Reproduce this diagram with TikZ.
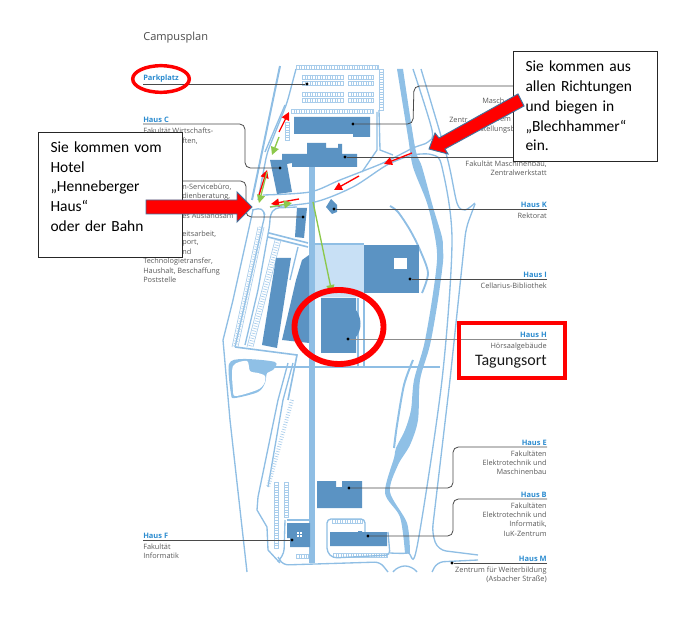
\documentclass[tikz,border=0pt]{standalone}
\usepackage{fontspec}
\setmainfont{Carlito}
\setsansfont{Open Sans}
\usetikzlibrary{arrows.meta, positioning, calc}
\definecolor{roadblue}{HTML}{8FBEE4}
\definecolor{riverblue}{HTML}{8FC0E6}
\definecolor{parkblue}{HTML}{A9CDEB}
\definecolor{patchblue}{HTML}{C8E0F5}
\definecolor{buildblue}{HTML}{5B93C3}
\definecolor{titleblue}{HTML}{2B8BCF}
\definecolor{mapgrey}{HTML}{5A5A5A}
\definecolor{leadgrey}{HTML}{4A4A4A}
\definecolor{arrowblue}{HTML}{41719C}
\definecolor{routegreen}{HTML}{8CC84B}
\newcommand{\parkh}[3]{%
  \draw[parkline] (#1,#3) rectangle (#2,#3+4);
  \draw[parktick] (#1,#3+2) -- (#2,#3+2);
}
\newcommand{\parkv}[3]{%
  \draw[parkline] (#1,#2) rectangle (#1+4,#3);
  \draw[parktick] (#1+2,#2) -- (#1+2,#3);
}
\begin{document}
\begin{tikzpicture}[x=0.75pt, y=-0.75pt,
                road/.style={draw=roadblue, line width=1pt},
                broad/.style={draw=roadblue, line width=5pt},
                parkline/.style={draw=parkblue, line width=0.5pt},
                parktick/.style={draw=parkblue, line width=3pt, dash pattern=on 0.5pt off 1.4pt},
                building/.style={fill=buildblue},
                title/.style={font=\sffamily\bfseries\fontsize{5.6}{6.8}\selectfont, text=titleblue, inner xsep=0pt, inner ysep=1pt},
                desc/.style={font=\sffamily\fontsize{5.5}{7}\selectfont, text=mapgrey, inner xsep=0pt, inner ysep=2.4pt},
                frag/.style={desc, anchor=west},
                dot/.style={circle, fill=black, inner sep=0pt, minimum size=2.6pt},
                leader/.style={draw=leadgrey, line width=0.6pt},
                redroute/.style={draw=red, line width=1pt, -{Triangle[length=6pt, width=6pt]}},
                greenroute/.style={draw=routegreen, line width=1pt, -{Triangle[length=6pt, width=6pt]}},
                bigarrow/.style={fill=red, draw=arrowblue, line width=0.7pt},
                callout/.style={draw=black!85, fill=white, line width=0.8pt, anchor=north west, align=left,
                    font=\fontsize{11.6}{14.8}\selectfont, text width=90pt, inner xsep=9pt}]
                \useasboundingbox (0,0) rectangle (700,620);

                \fill[riverblue] plot[smooth] coordinates {(397,69) (408,137) (413,167) (427,203) (435,237) (437,260) (432,300) (424,345) (414,380) (411,410) (405,430) (396,448) (394,458) (385,493) (400,517) (405,553)}
                    -- plot[smooth] coordinates {(410,553) (407,523) (390,492) (398,465) (410,445) (418,420) (420,380) (430,345) (438,300) (443,262) (443,250) (442,237) (433,207) (422,167) (415,147) (403,69)} -- cycle;
                \draw[riverblue, line width=1.5pt] plot[smooth] coordinates {(413,360) (404,385) (397,425) (394,448)};
                \draw[road, line width=1.4pt] plot[smooth] coordinates {(390,206) (398,212) (410,230) (420,250) (428,273) (422,293)};

                \draw[road, line width=1.5pt] (280,66) -- (252,200);
                \draw[road] (253,210) -- (233,300) -- (223,340) -- (230,420) -- (247,572);
                \draw[road, rounded corners=5] (296,69) -- (287,103) -- (267,153) -- (258,200);
                \draw[road] (285,105) -- (265,152);
                \draw[road, rounded corners=3] (252,210) -- (262,208) -- (265,215) -- (263,223) -- (248,290) -- (235,347);
                \draw[road, rounded corners=3] (297,207) -- (275,208) -- (270,215) -- (270,223) -- (258,290) -- (245,345);

                \draw[road] plot[smooth] coordinates {(263,195) (310,192) (340,180) (383,163) (413,148) (428,142) (432,130) (413,69)};
                \draw[road] plot[smooth] coordinates {(270,207) (315,202) (353,187) (387,165) (413,155) (433,155) (442,167) (452,240) (442,380) (417,547) (408,553) (390,553)};
                \draw[road] plot[smooth] coordinates {(421,69) (447,157) (457,203) (465,210) (475,203)};
                \draw[road, rounded corners=6] (475,204) -- (466,228) -- (450,380) -- (432,533) -- (438,550) -- (478,555);
                \draw[road, rounded corners=4] (278,557) -- (283,565) -- (380,562) -- (388,572);
                \draw[road, rounded corners=5] (393,572) -- (398,566) -- (412,566) -- (417,572);
                \draw[road, rounded corners=5] (432,572) -- (437,562) -- (478,560);

                \fill[patchblue] (315,245) rectangle (364,297);
                \draw[road, line width=1.2pt] (269,233) -- (308,243);
                \draw[road, line width=1.2pt] (268,237) -- (308,247);
                \draw[road] (298,247) -- (290,280);
                \draw[road, line width=1.4pt] (315,244) -- (364,244);
                \draw[road, line width=1.2pt] (235,347) -- (297,355) -- (288,400);
                \draw[road] (293,363) -- (283,400) -- (268,487);
                \draw[road] (288,363) -- (278,400) -- (258,497) -- (257,510) -- (267,527) -- (268,550) -- (280,563);
                \draw[road, line width=1.5pt] (275,367) -- (440,367);
                \draw[road] (358,298) -- (358,367);
                \draw[road] (364,298) -- (364,367);

                \fill[riverblue] plot[smooth cycle] coordinates {(229,364) (243,359) (275,362) (273,370) (267,373) (265,383) (258,392) (235,398) (231,394)};
                \fill[white] plot[smooth cycle] coordinates {(233,366) (247,361) (250,371) (258,373) (265,376) (264,384) (257,390) (236,396) (233,390)};

                \draw[broad] (312,165) -- (312,563);

                \parkh{296}{378}{65}
                \parkh{302}{343}{75}
                \parkh{302}{343}{81}
                \parkh{348}{373}{75}
                \parkh{348}{373}{81}
                \parkh{302}{343}{92}
                \parkh{302}{343}{98}
                \parkh{348}{373}{92}
                \parkh{348}{373}{98}
                \parkh{291}{373}{109}
                \parkv{379}{69}{110}
                \parkv{285}{122}{140}
                \draw[road] (377,112) -- (377,150) -- (362,172);
                \draw[road] (379,110) -- (380,150) -- (393,155);
                \parkv{274}{482}{548}
                \parkv{284}{482}{517}
                \parkh{332}{362}{519}
                \parkh{333}{387}{553}
                \parkh{296}{308}{554}
                \draw[road, rounded corners=3] (287,520) -- (310,520);
                \draw[road, rounded corners=3] (285,520) -- (284,553) -- (278,562);
                \draw[road, rounded corners=3] (365,532) -- (365,519) -- (327,519) -- (327,552) -- (333,558) -- (390,555) -- (388,532);

                \draw[parkline] (258,227) -- (232,347);
                \draw[parkline] (264,227) -- (238,347);
                \draw[parktick] (261,227) -- (235,347);
                \draw[parkline] (275,240) -- (247,347);
                \draw[parkline] (281,240) -- (253,347);
                \draw[parktick] (278,240) -- (250,347);
                \draw[parktick] (292,400) -- (268,487);

                \fill[building] (294,117) -- (370,117) -- (370,137) -- (353,137) -- (353,134) -- (294,134) -- cycle;
                \fill[building] (270,160) -- (282,160) -- (282,154) -- (307,154) -- (307,143) -- (326,143) -- (326,148) -- (338,148) -- (338,144) -- (342,144) -- (342,154) -- (357,154) -- (357,167) -- (292,167) -- (292,163) -- (287,164) -- (292,192) -- (277,194) -- cycle;
                \fill[building] (331,199) -- (337,205) -- (337,212) -- (332,214) -- (326,207) -- cycle;
                \fill[building] (297,208) -- (307,208) -- (304,238) -- (295,237) -- cycle;
                \fill[building] (364,245) rectangle (419,293);
                \fill[white] (394,258) rectangle (407,269);
                \fill[building] (276,258) -- (291,258) -- (277,348) -- (262,345) -- cycle;
                \fill[building] (302,260) -- (309,255) -- (309,343) -- (282,340) -- (296,280) -- cycle;
                \fill[building] (321,298) -- (356,298) -- (356,310) .. controls (362,318) and (362,330) .. (356,337) -- (356,353) -- (321,353) -- cycle;
                \fill[building] (317,481) -- (336,481) -- (336,487) -- (342,487) -- (342,481) -- (362,481) -- (362,508) -- (317,508) -- cycle;
                \fill[building] (330,532) -- (358,532) -- (358,531) -- (362,531) -- (362,532) -- (387,532) -- (387,546) -- (330,546) -- cycle;
                \fill[building] (287,523) -- (310,523) -- (310,547) -- (290,547) -- (290,538) -- (287,538) -- cycle;
                \fill[white] (297,532) rectangle (302,537);
                \draw[buildblue, line width=0.5pt] (299.5,532) -- (299.5,537) (297,534.5) -- (302,534.5);

                \node[anchor=west, font=\sffamily\fontsize{8.3}{10}\selectfont, text=black!70, inner sep=0pt] (campusplan) at (143,38) {Campusplan};

                \node[title, anchor=south west] (parkplatz) at (143,84) {Parkplatz};
                \node[dot] (dotpark) at (307,84) {};
                \draw[leader] (parkplatz.south west) -- (dotpark);

                \node[title, anchor=south west] (hausC) at (143,124) {Haus C};
                \node[desc, anchor=north west] (hausCtext) at (hausC.south west) {Fakultät Wirtschafts-};
                \node[frag] (hausCfrag) at (182,141) {ften,};
                \node[dot] (dotC) at (280,168) {};
                \draw[leader, rounded corners=4] (hausC.south west) -- (245,124) -- (245,168) -- (dotC);

                \node[frag] (fragA) at (182,187) {n-Servicebüro,};
                \node[frag] (fragB) at (182,197) {dienberatung,};
                \node[frag] (fragC) at (182,216) {es Auslandsam};
                \node[frag] (fragD) at (182,234) {eitsarbeit,};
                \node[frag] (fragE) at (182,243) {port,};
                \node[frag] (fragF) at (182,252) {nd};
                \node[frag] (hausAtext) at (143,262) {Technologietransfer,};
                \node[desc, anchor=north west, align=left] (hausAmore) at (143,264) {Haushalt, Beschaffung\\Poststelle};
                \coordinate (hausAstart) at (143,181);
                \node[dot] (dotA) at (303,217) {};
                \draw[leader, rounded corners=4] (hausAstart) -- (246,181) -- (246,217) -- (dotA);

                \node[dot] (dotD) at (353,124) {};
                \coordinate (hausDend) at (540,86);
                \draw[leader, rounded corners=4] (dotD) -- (413,124) -- (414,86) -- (hausDend);
                \node[frag] (fragG) at (482,101) {Masch};
                \node[frag] (fragH) at (449,120) {Zentr};
                \node[frag] (fragI) at (497,120) {rem};
                \node[frag] (fragJ) at (480,130) {stellungsb};

                \coordinate (hausGend) at (547,157);
                \node[dot] (dotG) at (345,157) {};
                \draw[leader] (dotG) -- (hausGend);
                \node[desc, anchor=north east, align=right] (hausGtext) at (hausGend) {Fakultät Maschinenbau,\\Zentralwerkstatt};

                \node[title, anchor=south east] (hausK) at (547,209) {Haus K};
                \node[desc, anchor=north east] (hausKtext) at (hausK.south east) {Rektorat};
                \node[dot] (dotK) at (334,209) {};
                \draw[leader] (hausK.south east) -- (dotK);

                \node[title, anchor=south east] (hausI) at (547,279) {Haus I};
                \node[desc, anchor=north east] (hausItext) at (hausI.south east) {Cellarius-Bibliothek};
                \node[dot] (dotI) at (410,279) {};
                \draw[leader] (hausI.south east) -- (dotI);

                \node[title, anchor=south east] (hausH) at (547,339) {Haus H};
                \node[desc, anchor=north east] (hausHtext) at (hausH.south east) {Hörsaalgebäude};
                \node[anchor=north east, inner xsep=0pt, inner ysep=1pt, font=\fontsize{12}{14}\selectfont, text=black!90] (tagungsort) at (hausHtext.south east) {Tagungsort};
                \node[dot] (dotH) at (348,339) {};
                \draw[leader, draw=black!45] (hausH.south east) -- (dotH);

                \node[title, anchor=south east] (hausE) at (547,447) {Haus E};
                \node[desc, anchor=north east, align=right] (hausEtext) at (hausE.south east) {Fakultäten\\Elektrotechnik und\\Maschinenbau};
                \node[dot] (dotE) at (349,488) {};
                \draw[leader, rounded corners=4] (hausE.south east) -- (453,447) -- (453,488) -- (dotE);

                \node[title, anchor=south east] (hausB) at (547,499) {Haus B};
                \node[desc, anchor=north east, align=right] (hausBtext) at (hausB.south east) {Fakultäten\\Elektrotechnik und\\Informatik,\\IuK-Zentrum};
                \node[dot] (dotB) at (368,536) {};
                \draw[leader, rounded corners=4] (hausB.south east) -- (453,499) -- (453,536) -- (dotB);

                \node[title, anchor=south east] (hausM) at (547,563) {Haus M};
                \node[desc, anchor=north east, align=right] (hausMtext) at (hausM.south east) {Zentrum für Weiterbildung\\(Asbacher Straße)};
                \node[dot] (dotM) at (452,563) {};
                \draw[leader] (hausM.south east) -- (dotM);

                \node[title, anchor=south west] (hausF) at (143,540) {Haus F};
                \node[desc, anchor=north west, align=left] (hausFtext) at (hausF.south west) {Fakultät\\Informatik};
                \node[dot] (dotF) at (292,540) {};
                \draw[leader] (hausF.south west) -- (dotF);

                \draw[redroute] (279,132) -- (289,112);
                \draw[greenroute] (279,137) -- (272,155);
                \draw[redroute] (259,195) -- (267,170);
                \draw[greenroute] (267,172) -- (259,203);
                \draw[redroute] (299,199) -- (271,204);
                \draw[greenroute] (270,207) -- (292,203);
                \draw[redroute] (359,176) -- (334,190);
                \draw[redroute] (412,153) -- (384,164);
                \draw[greenroute] (313,202) -- (332,293);

                \draw[red, line width=2.6pt] (161,79) ellipse (28.3 and 13.3);
                \draw[red, line width=4.4pt] (339,327) ellipse (44.5 and 37);
                \draw[red, line width=3pt] (459,323) rectangle (565,378);

                \node[callout, text depth=72pt, inner ysep=6.5pt, minimum width=108pt, minimum height=93.75pt] (hotelbox) at (38,132) {Sie kommen vom\\Hotel\\„Henneberger\\Haus“\\oder der Bahn};
                \node[callout, text depth=60pt, inner ysep=7pt, minimum width=107.25pt, minimum height=82.5pt] (richtungbox) at (513,51) {Sie kommen aus\\allen Richtungen\\und biegen in\\„Blechhammer“\\ein.};

                \draw[bigarrow] (146,200) -- (237,200) -- (237,192) -- (252,207) -- (237,222) -- (237,214) -- (146,214) -- cycle;
                \draw[bigarrow] (518,94) -- (439,138) -- (435,133) -- (429,149) -- (448,154) -- (445,149) -- (524,106) -- cycle;
            \end{tikzpicture}
\end{document}
